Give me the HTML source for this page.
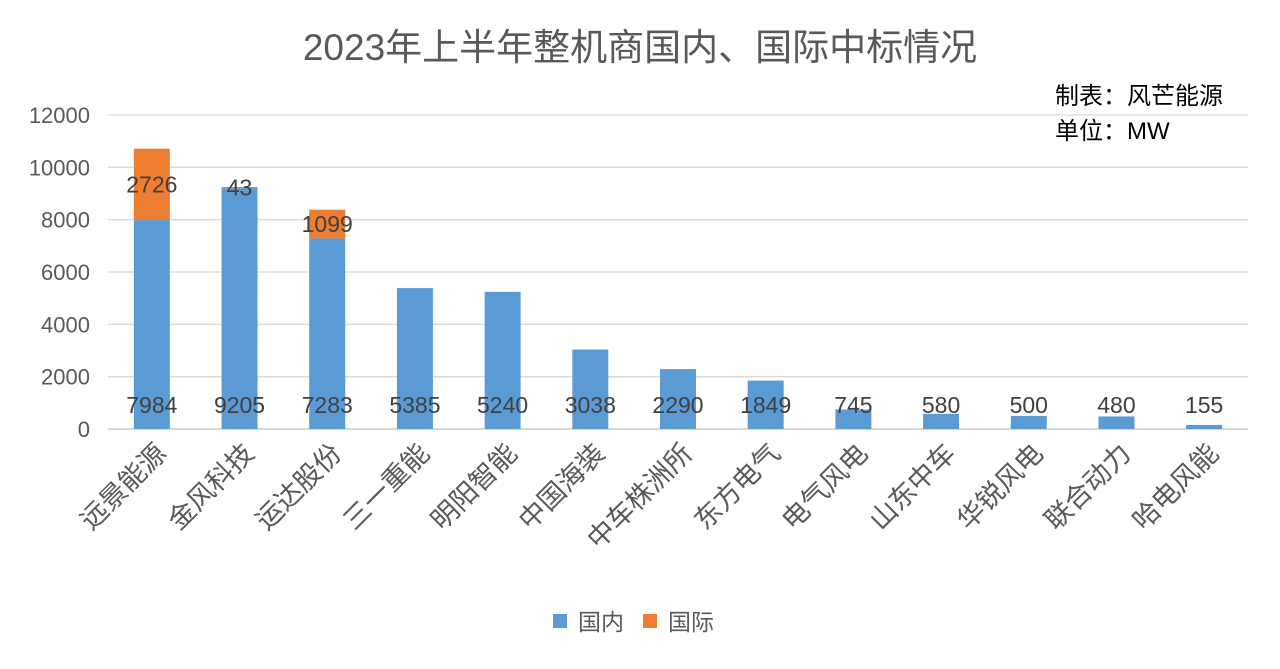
<!DOCTYPE html>
<html><head><meta charset="utf-8"><style>
body{margin:0;background:#fff;}
svg text{font-family:"Liberation Sans","Noto Sans CJK SC",sans-serif;}
</style></head><body>
<svg id="chart" width="1280" height="664" xmlns="http://www.w3.org/2000/svg">
<rect width="1280" height="664" fill="#fff"/>
<text x="640" y="60" text-anchor="middle" font-size="37" fill="#595959">2023年上半年整机商国内、国际中标情况</text>
<text x="1055" y="104" font-size="24" fill="#000">制表：风芒能源</text>
<text x="1055" y="139" font-size="24" fill="#000">单位：MW</text>
<g id="grid"></g><g id="bars"></g><g id="labels"></g>
<g>
<rect x="553" y="614" width="14" height="14" fill="#5b9bd5"/>
<text x="578" y="630" font-size="23" fill="#595959">国内</text>
<rect x="643" y="614" width="14" height="14" fill="#ed7d31"/>
<text x="668" y="630" font-size="23" fill="#595959">国际</text>
</g>
</svg>
<script>
const categories=["远景能源","金风科技","运达股份","三一重能","明阳智能","中国海装","中车株洲所","东方电气","电气风电","山东中车","华锐风电","联合动力","哈电风能"];
const domestic=[7984,9205,7283,5385,5240,3038,2290,1849,745,580,500,480,155];
const international=[2726,43,1099,0,0,0,0,0,0,0,0,0,0];
const yTicks=[0,2000,4000,6000,8000,10000,12000];
const NS="http://www.w3.org/2000/svg";
const x0=108,x1=1248,yBase=429,yTop=115,yMax=12000;
const step=(x1-x0)/categories.length,bw=36;
function y(v){return yBase-(v/yMax)*(yBase-yTop);}
function cx(i){return x0+step*(i+0.5);}
function mk(tag,attrs,parent,txt){const e=document.createElementNS(NS,tag);for(const k in attrs)e.setAttribute(k,attrs[k]);if(txt!=null)e.textContent=txt;parent.appendChild(e);return e;}
const grid=document.getElementById('grid'),bars=document.getElementById('bars'),labels=document.getElementById('labels');
yTicks.forEach(t=>{
  const l=mk('line',{x1:x0,x2:x1,y1:y(t),y2:y(t),stroke:t===0?'#bfbfbf':'#d9d9d9','stroke-width':1.3},grid);
  
  
  const tx=mk('text',{x:90,y:y(t)+8,'text-anchor':'end','font-size':22,fill:'#595959'},grid,String(t));
  
  
});
categories.forEach((c,i)=>{
  const x=cx(i)-bw/2;
  const b=mk('rect',{x:x,y:y(domestic[i]),width:bw,height:yBase-y(domestic[i]),fill:'#5b9bd5'},bars);
  
  
  if(international[i]>0){
    const top=domestic[i]+international[i];
    const o=mk('rect',{x:x,y:y(top),width:bw,height:y(domestic[i])-y(top),fill:'#ed7d31'},bars);
    
    
    const ol=mk('text',{x:cx(i),y:(y(top)+y(domestic[i]))/2+8,'text-anchor':'middle','font-size':23,fill:'#404040'},labels,String(international[i]));
    
    
  }
  const dl=mk('text',{x:cx(i),y:413,'text-anchor':'middle','font-size':23,fill:'#404040'},labels,String(domestic[i]));
  
  
  const lx=cx(i)+16,ly=455;
  const cl=mk('text',{x:lx,y:ly,'text-anchor':'end','font-size':27,fill:'#595959',transform:`rotate(-45 ${lx} ${ly})`},labels,c);
  
  
});
</script>
</body></html>
